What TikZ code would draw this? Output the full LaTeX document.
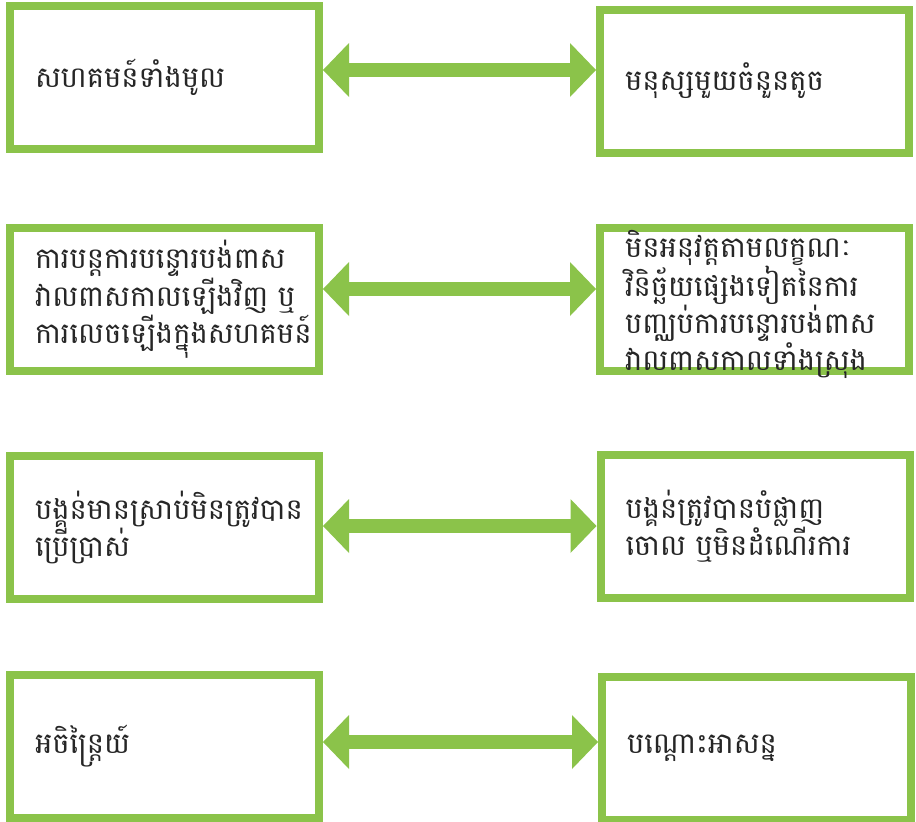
\documentclass[tikz,border=0pt]{standalone}
\usepackage{fontspec}
\newfontfamily\khmer[Script=Khmer]{Battambang}
\usetikzlibrary{arrows.meta}
\definecolor{leafgreen}{RGB}{139,195,74}

\begin{document}
\begin{tikzpicture}[x=1pt,y=-1pt,
  box/.style={rectangle,draw=leafgreen,line width=8pt,minimum width=309pt,
    minimum height=143pt,inner xsep=21pt,inner ysep=0pt,text width=259pt,align=left,
    font=\khmer\fontsize{29}{31}\selectfont,text=black!85},
  loose/.style={font=\khmer\fontsize{29}{36}\selectfont},
  twoway/.style={{Triangle[length=26pt,width=54pt,line width=0pt]}-{Triangle[length=26pt,width=54pt,line width=0pt]},
    line width=14pt,draw=leafgreen}]
  \useasboundingbox (0,0) rectangle (916,822);

  \node[box] (1) at (164.5,77.5) {សហគមន៍ទាំងមូល};
  \node[box] (2) at (754.5,81) {មនុស្សមួយចំនួនតូច};
  \node[box] (3) at (164.5,299.5) {ការបន្តការបន្ទោរបង់ពាស\\វាលពាសកាលឡើងវិញ~ឬ\\ការលេចឡើងក្នុងសហគមន៍};
  \node[box,text height=20pt,text depth=105pt] (4) at (754.5,299.5) {មិនអនុវត្តតាមលក្ខណៈ\\វិនិច្ឆ័យផ្សេងទៀតនៃការ\\បញ្ឈប់ការបន្ទោរបង់ពាស\\វាលពាសកាលទាំងស្រុង};
  \node[box,loose] (5) at (164.5,527.5) {បង្គន់មានស្រាប់មិនត្រូវបាន\\ប្រើប្រាស់};
  \node[box,loose] (6) at (755,526) {បង្គន់ត្រូវបានបំផ្លាញ\\ចោល~ឬមិនដំណើរការ};
  \node[box] (7) at (164.5,746) {អចិន្ត្រៃយ៍};
  \node[box] (8) at (756.5,748) {បណ្ដោះអាសន្ន};

  \path
    (1.east |- 0,70) edge[twoway] (2.west |- 0,70)
    (3.east |- 0,289) edge[twoway] (4.west |- 0,289)
    (5.east |- 0,526) edge[twoway] (6.west |- 0,526)
    (7.east |- 0,742) edge[twoway] (8.west |- 0,742);
\end{tikzpicture}
\end{document}
